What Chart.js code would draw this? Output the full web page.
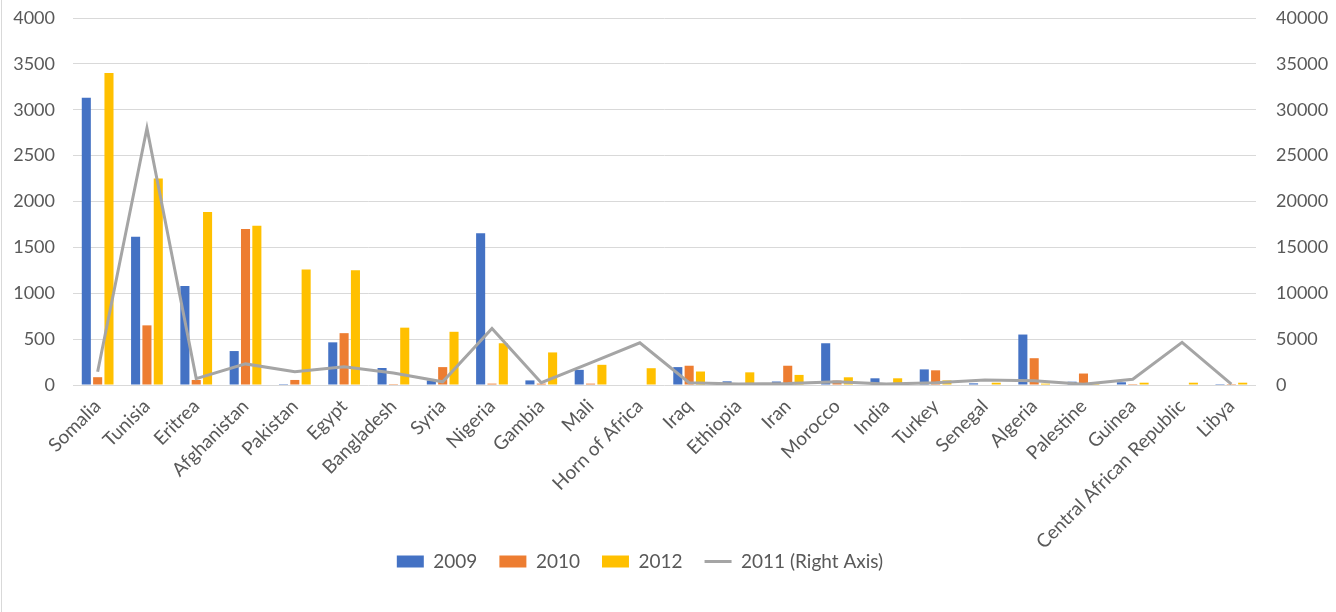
<!DOCTYPE html>
<html>
<head>
<meta charset="utf-8">
<script src="https://cdn.jsdelivr.net/npm/chart.js@4.4.1/dist/chart.umd.min.js"></script>
<style>
    html, body { margin: 0; padding: 0; background: #fff; }
    #wrap { position: relative; width: 1336px; height: 612px; }
</style>
</head>
<body>
<div id="wrap"><canvas id="myChart" width="1336" height="612"></canvas></div>
<script>
    const countries = ["Somalia", "Tunisia", "Eritrea", "Afghanistan", "Pakistan", "Egypt", "Bangladesh", "Syria",
        "Nigeria", "Gambia", "Mali", "Horn of Africa", "Iraq", "Ethiopia", "Iran", "Morocco", "India", "Turkey",
        "Senegal", "Algeria", "Palestine", "Guinea", "Central African Republic", "Libya"];

    const values2009 = [3130, 1615, 1080, 370, 10, 465, 185, 50, 1655, 50, 165, 0, 195, 40, 38, 455, 73, 170, 18, 550, 36, 30, 0, 10];
    const values2010 = [85, 650, 55, 1700, 55, 565, 10, 195, 15, 15, 15, 0, 210, 0, 210, 48, 0, 160, 0, 292, 125, 10, 0, 10];
    const values2012 = [3400, 2250, 1885, 1735, 1260, 1250, 625, 580, 455, 355, 220, 183, 147, 138, 110, 84, 73, 50, 25, 15, 25, 25, 25, 25];
    const values2011 = [1450, 28000, 700, 2300, 1450, 2000, 1300, 350, 6150, 250, 2400, 4600, 250, 100, 150, 350, 100, 250, 550, 450, 80, 620, 4650, 100];

    const leftTicks = { min: 0, max: 4000, step: 500 };
    const rightTicks = { min: 0, max: 40000, step: 5000 };

    const textColor = "#595959";
    const gridColor = "#d9d9d9";
    const font = { family: "Lato", size: 19 };
    const axisFont = { family: "Lato", size: 18 };

    // white background + thin frame line on the left edge
    const backgroundPlugin = {
        id: "background",
        beforeDraw: (chart) => {
            const ctx = chart.ctx;
            ctx.save();
            ctx.fillStyle = "#fff";
            ctx.fillRect(0, 0, chart.width, chart.height);
            ctx.strokeStyle = gridColor;
            ctx.lineWidth = 1;
            ctx.beginPath();
            ctx.moveTo(1.5, 0);
            ctx.lineTo(1.5, chart.height);
            ctx.stroke();
            ctx.restore();
        }
    };

    // legend sits beside the long rotated labels, not under them
    const legendShift = {
        id: "legendShift",
        afterLayout: (chart) => {
            const lg = chart.legend;
            lg.top -= 25;
            lg.bottom -= 25;
            lg.left -= 28;
            lg.right -= 28;
        }
    };

    const barDataset = (label, data, color) => ({
        type: "bar",
        label,
        data,
        backgroundColor: color,
        borderWidth: 0,
        pointStyle: "rect",
        categoryPercentage: 0.69,
        barPercentage: 0.8,
        yAxisID: "y",
        order: 1
    });

    const plainNumber = (value) => String(value);

    const ctx = document.getElementById("myChart").getContext("2d");
    const myChart = new Chart(ctx, {
        data: {
            labels: countries,
            datasets: [
                barDataset("2009", values2009, "#4472c4"),
                barDataset("2010", values2010, "#ed7d31"),
                barDataset("2012", values2012, "#ffc000"),
                {
                    type: "line",
                    label: "2011 (Right Axis)",
                    data: values2011,
                    borderColor: "#a5a5a5",
                    backgroundColor: "#a5a5a5",
                    borderWidth: 3,
                    pointRadius: 0,
                    pointStyle: "line",
                    tension: 0,
                    yAxisID: "y1",
                    order: 0
                }
            ]
        },
        options: {
            responsive: false,
            animation: false,
            layout: { padding: { top: 18, left: 0, right: 0, bottom: 6 } },
            plugins: {
                legend: {
                    position: "bottom",
                    labels: {
                        color: textColor,
                        font,
                        usePointStyle: true,
                        pointStyleWidth: 27,
                        boxHeight: 12,
                        padding: 22,
                        sort: (a, b) => a.datasetIndex - b.datasetIndex
                    }
                },
                tooltip: { enabled: false }
            },
            scales: {
                x: {
                    grid: { display: false },
                    border: { display: false },
                    ticks: { color: textColor, font, maxRotation: 45, minRotation: 45, autoSkip: false, padding: 2 },
                    afterFit: (scale) => { scale.height = 170; }
                },
                y: {
                    position: "left",
                    min: leftTicks.min,
                    max: leftTicks.max,
                    ticks: { stepSize: leftTicks.step, color: textColor, font: axisFont, padding: 3, callback: plainNumber },
                    grid: { color: gridColor, drawTicks: true, tickLength: 15, tickColor: "transparent" },
                    border: { display: false },
                    afterFit: (scale) => { scale.width = 73; }
                },
                y1: {
                    position: "right",
                    min: rightTicks.min,
                    max: rightTicks.max,
                    ticks: { stepSize: rightTicks.step, color: textColor, font: axisFont, padding: 3, callback: plainNumber },
                    grid: { display: true, drawOnChartArea: false, drawTicks: true, tickLength: 17, tickColor: "transparent" },
                    border: { display: false },
                    afterFit: (scale) => { scale.width = 80; }
                }
            }
        },
        plugins: [backgroundPlugin, legendShift]
    });
</script>
</body>
</html>
